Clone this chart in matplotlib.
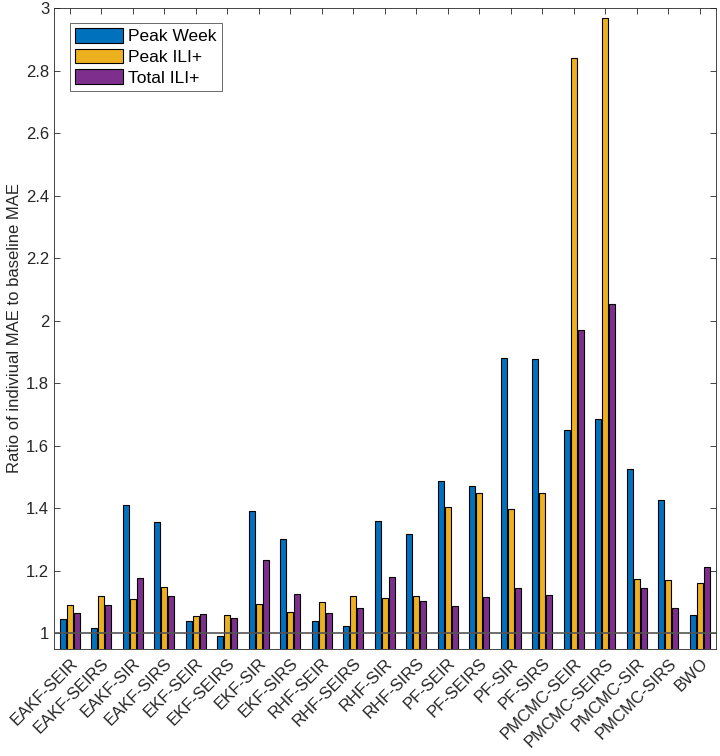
import numpy as np
import matplotlib
matplotlib.use('Agg')
import matplotlib.pyplot as plt

# ==============================
# Data
# ==============================

methods = ['EAKF-SEIR', 'EAKF-SEIRS', 'EAKF-SIR', 'EAKF-SIRS', 'EKF-SEIR', 'EKF-SEIRS',
           'EKF-SIR', 'EKF-SIRS', 'RHF-SEIR', 'RHF-SEIRS', 'RHF-SIR', 'RHF-SIRS',
           'PF-SEIR', 'PF-SEIRS', 'PF-SIR', 'PF-SIRS', 'PMCMC-SEIR', 'PMCMC-SEIRS',
           'PMCMC-SIR', 'PMCMC-SIRS', 'BWO']

peak_week = [1.044, 1.015, 1.410, 1.356, 1.040, 0.989, 1.392, 1.301, 1.037, 1.021,
             1.358, 1.317, 1.487, 1.472, 1.882, 1.876, 1.650, 1.686, 1.526, 1.425, 1.057]
peak_ili = [1.090, 1.120, 1.108, 1.146, 1.054, 1.058, 1.092, 1.068, 1.100, 1.117,
            1.112, 1.117, 1.404, 1.448, 1.396, 1.448, 2.842, 2.970, 1.173, 1.171, 1.159]
total_ili = [1.063, 1.090, 1.177, 1.119, 1.061, 1.047, 1.233, 1.124, 1.065, 1.081,
             1.178, 1.102, 1.088, 1.114, 1.144, 1.122, 1.970, 2.053, 1.145, 1.081, 1.210]

series_names = ['Peak Week', 'Peak ILI+', 'Total ILI+']
colors = ['#0072BD', '#EDB120', '#7E2F8E']

# ==============================
# Plot
# ==============================

plt.rcParams['font.family'] = ['Liberation Sans', 'DejaVu Sans']
axis_gray = '#262626'

fig = plt.figure(figsize=(7.2, 7.56), dpi=100)
ax = fig.add_axes([0.075, 0.142, 0.919, 0.847])

x = np.arange(1, len(methods) + 1)
width = 0.19
offset = 0.222
for i, (vals, name, col) in enumerate(zip([peak_week, peak_ili, total_ili], series_names, colors)):
    ax.bar(x + (i - 1) * offset, vals, width=width, color=col, edgecolor='black',
           linewidth=0.8, label=name, zorder=2)

ax.axhline(1, color='#555555', linewidth=1.2, zorder=3)

ax.set_xlim(0.5, len(methods) + 0.5)
ax.set_ylim(0.95, 3)
ax.set_yticks(np.arange(1, 3.01, 0.2))
ax.set_yticklabels(['1', '1.2', '1.4', '1.6', '1.8', '2', '2.2', '2.4', '2.6', '2.8', '3'])
ax.set_xticks(x)
ax.set_xticklabels(methods, rotation=45, ha='right', va='top', rotation_mode='anchor')
ax.tick_params(direction='in', top=True, right=True, labelsize=12, colors=axis_gray,
               length=4, width=0.6)
ax.tick_params(axis='x', labelsize=12, pad=5)
for sp in ax.spines.values():
    sp.set_color(axis_gray)
    sp.set_linewidth(0.6)

ax.set_ylabel('Ratio of indiviual MAE to baseline MAE', fontsize=12, color=axis_gray, labelpad=3)

leg = ax.legend(loc='upper left', bbox_to_anchor=(0.024, 0.977), fontsize=12.5,
                frameon=True, fancybox=False, edgecolor=axis_gray, handlelength=2.75,
                handleheight=0.9, borderpad=0.3, labelspacing=0.25, handletextpad=0.3,
                borderaxespad=0)
leg.get_frame().set_linewidth(0.6)

fig.savefig('out.png', dpi=100)
